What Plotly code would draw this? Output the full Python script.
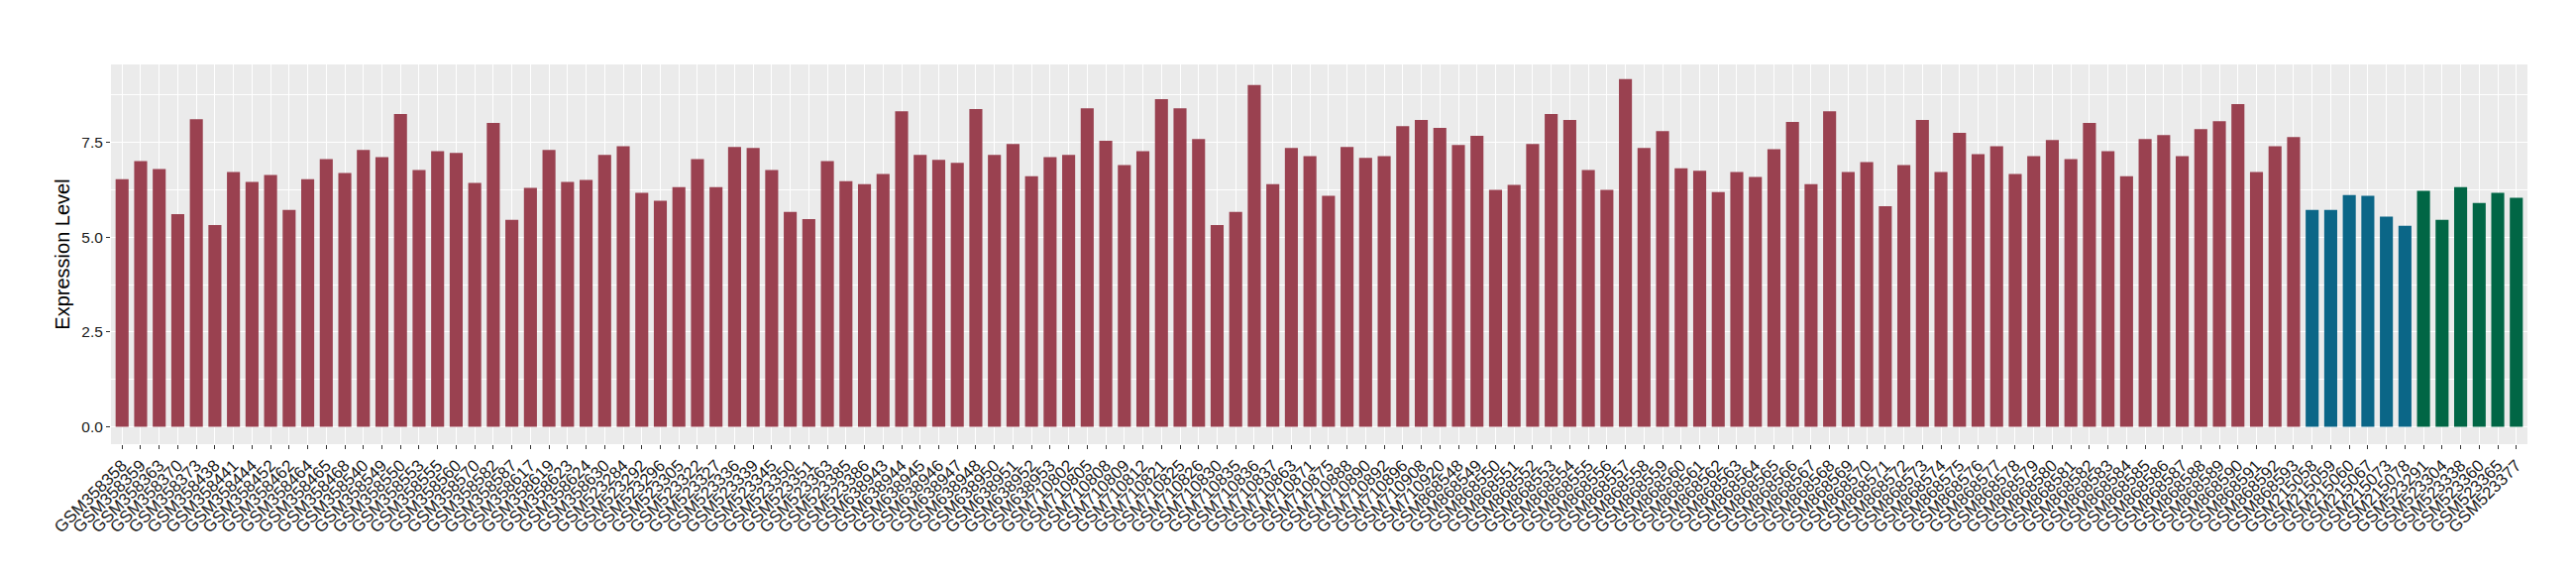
import plotly.graph_objects as go

group_a_samples = [
    "GSM358358", "GSM358359", "GSM358363", "GSM358370", "GSM358373", "GSM358438", "GSM358441",
    "GSM358444", "GSM358452", "GSM358462", "GSM358464", "GSM358465", "GSM358468", "GSM358540",
    "GSM358549", "GSM358550", "GSM358553", "GSM358555", "GSM358560", "GSM358570", "GSM358582",
    "GSM358587", "GSM358617", "GSM358619", "GSM358623", "GSM358624", "GSM358630",
    "GSM523284", "GSM523292", "GSM523296", "GSM523305", "GSM523322", "GSM523327", "GSM523336",
    "GSM523339", "GSM523345", "GSM523350", "GSM523351", "GSM523363", "GSM523385", "GSM523386",
    "GSM638943", "GSM638944", "GSM638945", "GSM638946", "GSM638947", "GSM638948", "GSM638950",
    "GSM638951", "GSM638952", "GSM638953",
    "GSM710802", "GSM710805", "GSM710808", "GSM710809", "GSM710812", "GSM710821", "GSM710825",
    "GSM710826", "GSM710830", "GSM710835", "GSM710836", "GSM710837", "GSM710863", "GSM710871",
    "GSM710875", "GSM710888", "GSM710890", "GSM710892", "GSM710896", "GSM710908", "GSM710920",
    "GSM868548", "GSM868549", "GSM868550", "GSM868551", "GSM868552", "GSM868553", "GSM868554",
    "GSM868555", "GSM868556", "GSM868557", "GSM868558", "GSM868559", "GSM868560", "GSM868561",
    "GSM868562", "GSM868563", "GSM868564", "GSM868565", "GSM868566", "GSM868567", "GSM868568",
    "GSM868569", "GSM868570", "GSM868571", "GSM868572", "GSM868573", "GSM868574", "GSM868575",
    "GSM868576", "GSM868577", "GSM868578", "GSM868579", "GSM868580", "GSM868581", "GSM868582",
    "GSM868583", "GSM868584", "GSM868585", "GSM868586", "GSM868587", "GSM868588", "GSM868589",
    "GSM868590", "GSM868591", "GSM868592", "GSM868593",
]

group_a_values = [
    6.53, 7.01, 6.80, 5.61, 8.11, 5.32, 6.72, 6.46, 6.64, 5.72, 6.53, 7.06, 6.69, 7.30,
    7.11, 8.25, 6.77, 7.27, 7.22, 6.43, 8.01, 5.46, 6.30, 7.30, 6.46, 6.51, 7.17,
    7.40, 6.17, 5.96, 6.32, 7.06, 6.32, 7.38, 7.35, 6.77, 5.67, 5.48, 7.01, 6.48, 6.40,
    6.67, 8.32, 7.17, 7.04, 6.96, 8.38, 7.17, 7.46, 6.61, 7.11,
    7.17, 8.40, 7.54, 6.90, 7.27, 8.64, 8.40, 7.59, 5.32, 5.67, 9.01, 6.40, 7.35, 7.14,
    6.09, 7.38, 7.09, 7.14, 7.93, 8.09, 7.88,
    7.43, 7.67, 6.25, 6.38, 7.46, 8.25, 8.09, 6.77, 6.25, 9.17, 7.35, 7.80, 6.82, 6.75,
    6.19, 6.72, 6.59, 7.32, 8.04, 6.40, 8.32, 6.72, 6.98, 5.82, 6.90, 8.09, 6.72, 7.75,
    7.19, 7.40, 6.67, 7.14, 7.56, 7.06, 8.01, 7.27, 6.61, 7.59, 7.69, 7.14, 7.85, 8.06,
    8.51, 6.72, 7.40, 7.64,
]

group_b_samples = ["GSM215058", "GSM215059", "GSM215060", "GSM215067", "GSM215073", "GSM215078"]
group_b_values = [5.72, 5.72, 6.11, 6.09, 5.54, 5.30]

group_c_samples = ["GSM523291", "GSM523304", "GSM523338", "GSM523360", "GSM523365", "GSM523377"]
group_c_values = [6.22, 5.46, 6.32, 5.90, 6.17, 6.04]

y_tick_values = [0, 2.5, 5, 7.5]
y_tick_labels = ["0.0", "2.5", "5.0", "7.5"]

colors = {"a": "#9A4150", "b": "#0B6687", "c": "#016645"}

all_samples = group_a_samples + group_b_samples + group_c_samples

fig = go.Figure()
for name, xs, ys, key in [("A", group_a_samples, group_a_values, "a"),
                          ("B", group_b_samples, group_b_values, "b"),
                          ("C", group_c_samples, group_c_values, "c")]:
    fig.add_trace(go.Bar(x=xs, y=ys, name=name, marker=dict(color=colors[key], line=dict(width=0)),
                         width=0.7, showlegend=False))

font_family = "Liberation Sans, Arial, Helvetica, sans-serif"
n = len(all_samples)
fig.update_layout(
    width=2600, height=580,
    margin=dict(l=104, r=57, t=57, b=140, autoexpand=False),
    paper_bgcolor="white", plot_bgcolor="#EBEBEB",
    font=dict(family=font_family, color="#1A1A1A"),
    barmode="overlay",
)
fig.update_xaxes(
    type="category", categoryorder="array", categoryarray=all_samples,
    tickmode="array", tickvals=all_samples, ticktext=all_samples,
    range=[-0.6, n - 1 + 0.6], tickangle=-45,
    tickfont=dict(size=17, color="#1A1A1A", family=font_family),
    ticks="outside", ticklen=4, tickcolor="#333333", tickwidth=1,
    showgrid=True, gridcolor="white", gridwidth=1.1,
    showline=False, zeroline=False, automargin=False,
)
fig.update_yaxes(
    range=[-0.455, 9.555], tickmode="array", tickvals=y_tick_values, ticktext=y_tick_labels,
    tickfont=dict(size=15.5, color="#1A1A1A", family=font_family),
    ticks="outside", ticklen=4, tickcolor="#333333", tickwidth=1,
    showgrid=True, gridcolor="white", gridwidth=1.1,
    minor=dict(tickvals=[1.25, 3.75, 6.25, 8.75], showgrid=True, gridcolor="white", gridwidth=0.6, ticks=""),
    zeroline=False, showline=False, automargin=False,
    title=dict(text="Expression Level", font=dict(size=20, color="black", family=font_family), standoff=6),
)

fig.write_html("out.html")
